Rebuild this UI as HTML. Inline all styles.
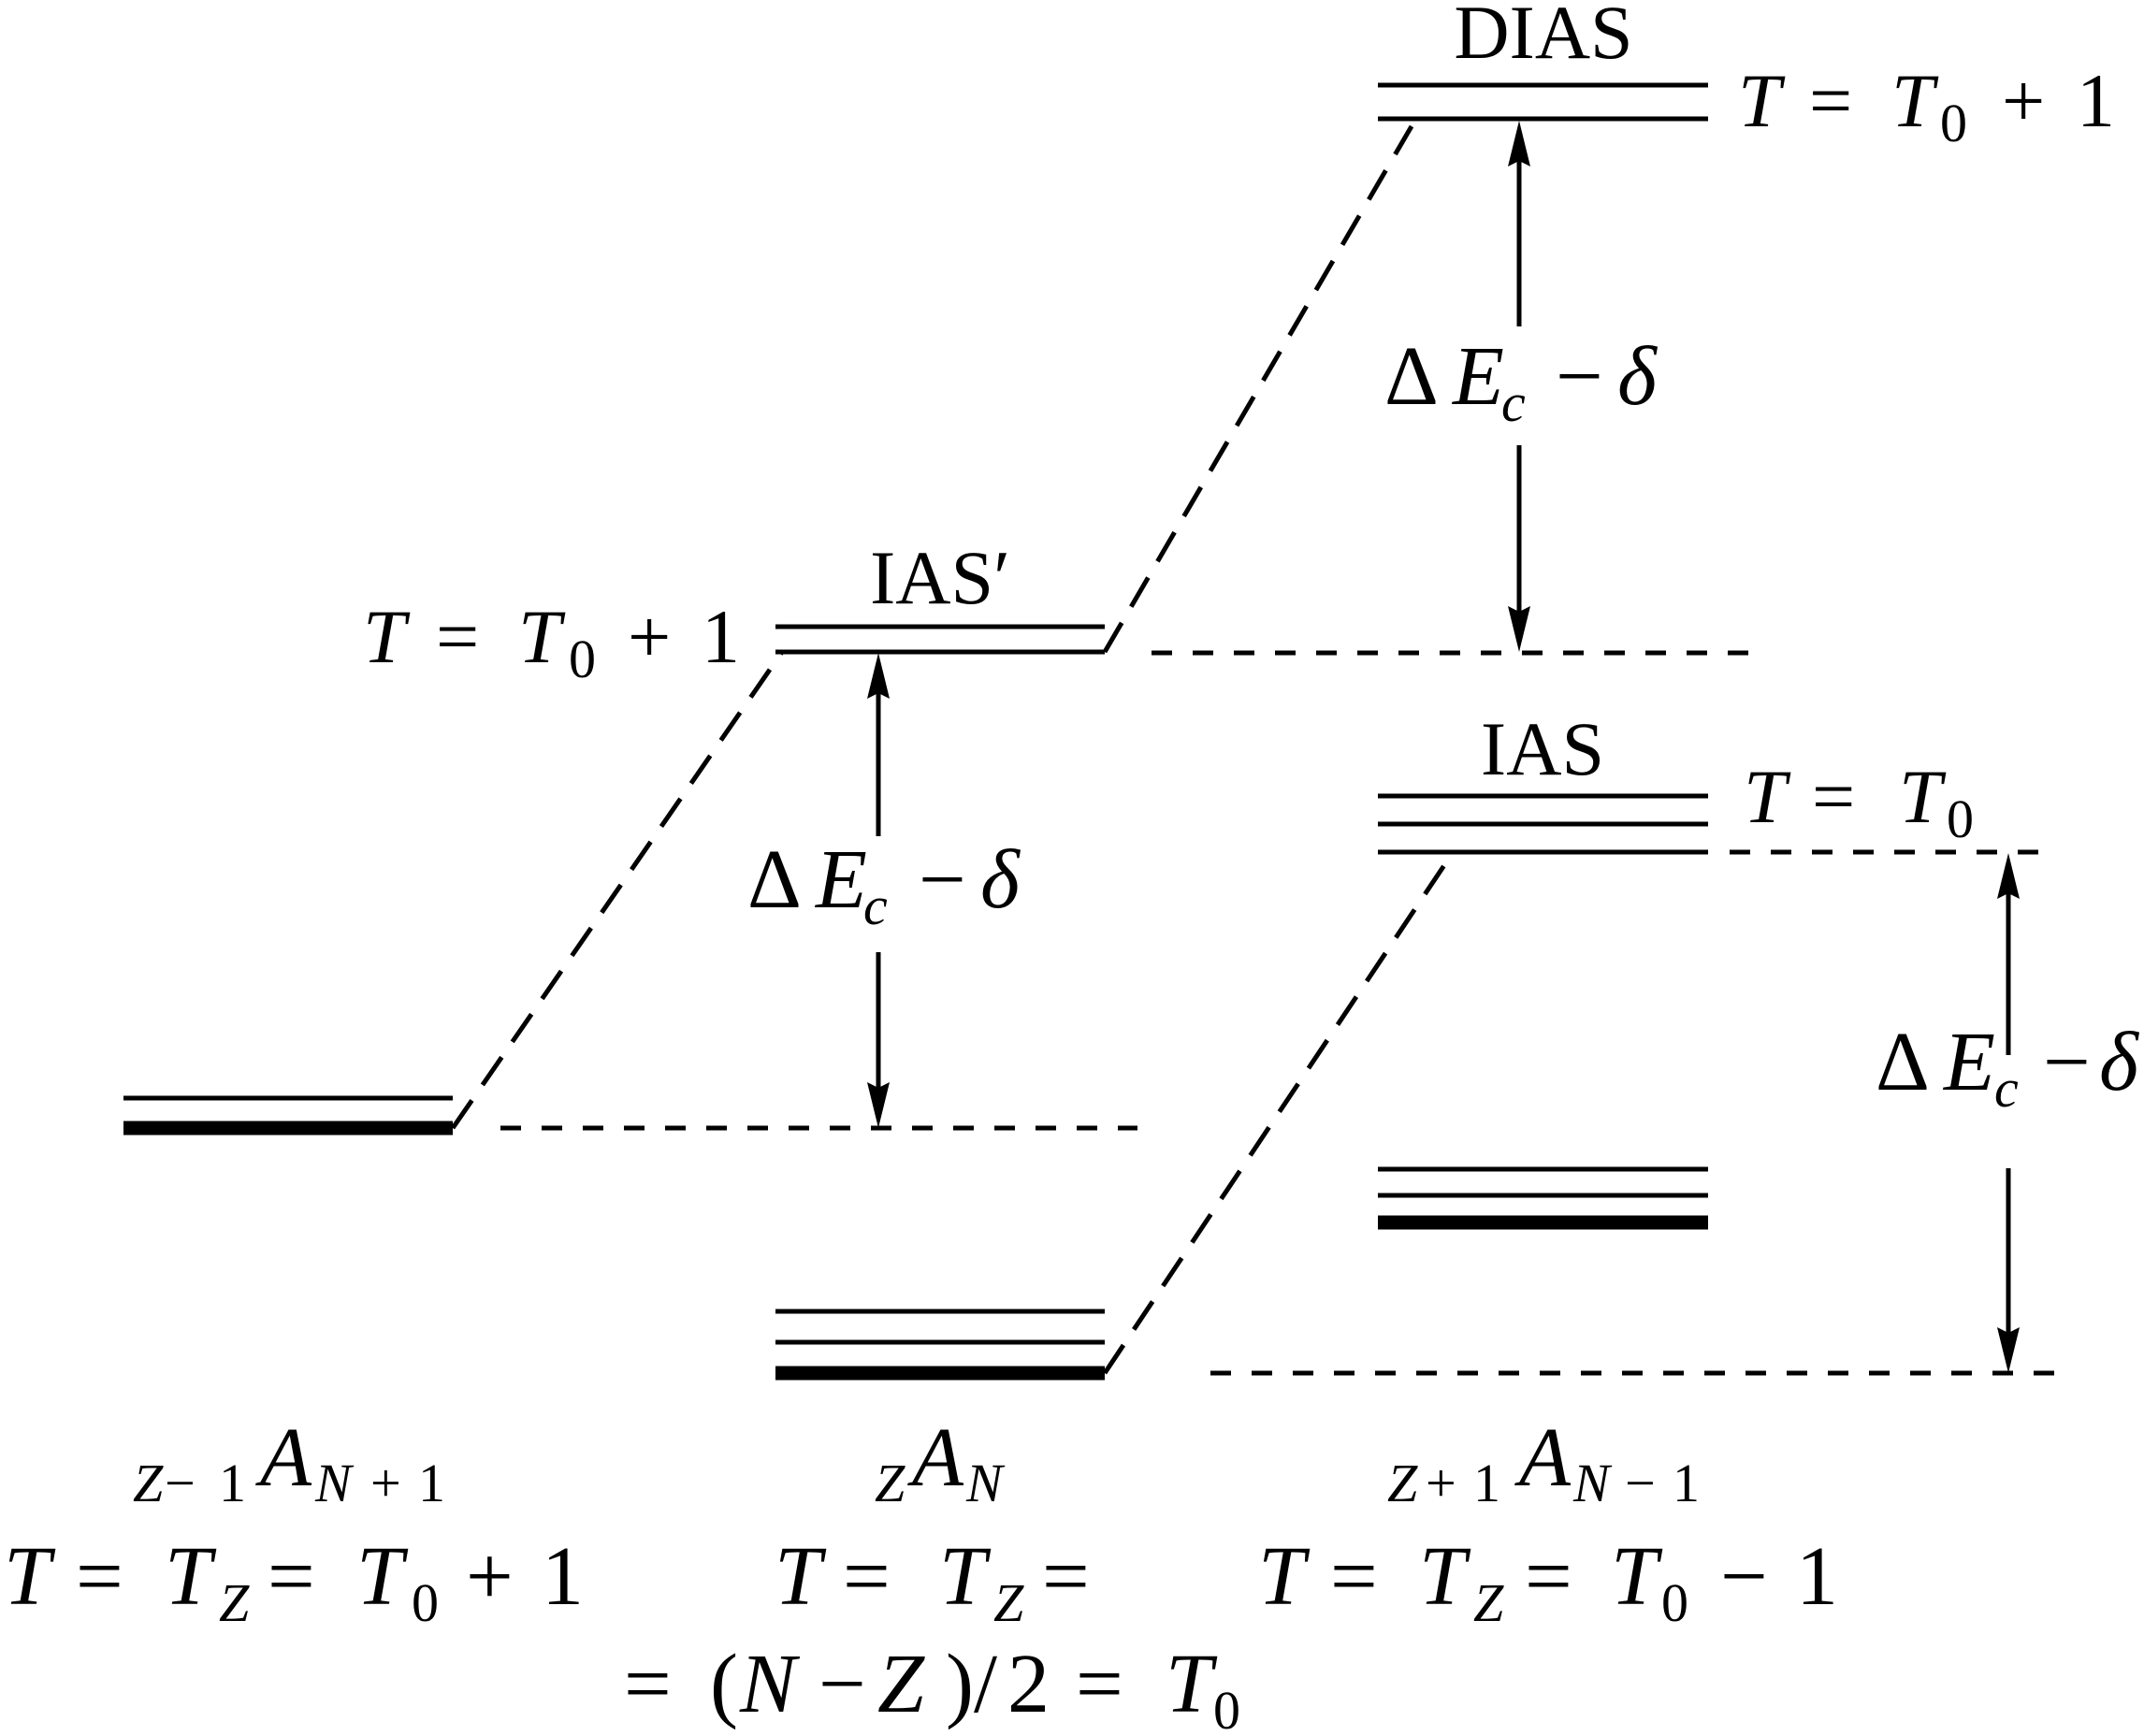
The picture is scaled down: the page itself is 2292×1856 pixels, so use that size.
<!DOCTYPE html>
<html><head><meta charset="utf-8"><style>
html,body{margin:0;padding:0;background:#fff;}
svg{display:block;}
text{font-family:"Liberation Serif","DejaVu Serif",serif;fill:#000;font-size:82px;}
.m{font-style:italic;}
.s{font-size:58px;}
.b{font-size:90px;}
</style></head><body>
<svg width="2292" height="1856" viewBox="0 0 2292 1856" xmlns="http://www.w3.org/2000/svg" font-family="Liberation Serif, DejaVu Serif, serif">
<g stroke="#000" stroke-width="5" fill="none">
<line x1="1473" y1="91" x2="1826" y2="91"/>
<line x1="1473" y1="127" x2="1826" y2="127"/>
<line x1="829" y1="670" x2="1181" y2="670"/>
<line x1="829" y1="697" x2="1181" y2="697"/>
<line x1="132" y1="1174" x2="484" y2="1174"/>
<line x1="132" y1="1206" x2="484" y2="1206" stroke-width="15"/>
<line x1="829" y1="1402" x2="1181" y2="1402"/>
<line x1="829" y1="1435" x2="1181" y2="1435"/>
<line x1="829" y1="1468" x2="1181" y2="1468" stroke-width="15"/>
<line x1="1473" y1="851" x2="1826" y2="851"/>
<line x1="1473" y1="881" x2="1826" y2="881"/>
<line x1="1473" y1="911" x2="1826" y2="911"/>
<line x1="1473" y1="1250" x2="1826" y2="1250"/>
<line x1="1473" y1="1278" x2="1826" y2="1278"/>
<line x1="1473" y1="1307" x2="1826" y2="1307" stroke-width="15"/>
<line x1="1181" y1="697" x2="1509" y2="135" stroke-dasharray="36 20"/>
<line x1="484" y1="1206" x2="836" y2="697" stroke-dasharray="36 20"/>
<line x1="1181" y1="1468" x2="1550" y2="916" stroke-dasharray="36 20"/>
<line x1="1231" y1="698" x2="1869" y2="698" stroke-dasharray="22 22"/>
<line x1="535" y1="1206" x2="1216" y2="1206" stroke-dasharray="22 22"/>
<line x1="1849" y1="911" x2="2198" y2="911" stroke-dasharray="22 22"/>
<line x1="1294" y1="1468" x2="2205" y2="1468" stroke-dasharray="22 22"/>
<line x1="1624" y1="160" x2="1624" y2="349"/>
<line x1="1624" y1="476" x2="1624" y2="665"/>
<line x1="939" y1="730" x2="939" y2="894"/>
<line x1="939" y1="1018" x2="939" y2="1173"/>
<line x1="2147" y1="944" x2="2147" y2="1128"/>
<line x1="2147" y1="1249" x2="2147" y2="1435"/>
</g>
<g fill="#000">
<polygon points="1624,129 1612,178 1624,172 1636,178"/>
<polygon points="1624,697 1612,648 1624,654 1636,648"/>
<polygon points="939,698 927,747 939,741 951,747"/>
<polygon points="939,1206 927,1157 939,1163 951,1157"/>
<polygon points="2147,912 2135,961 2147,955 2159,961"/>
<polygon points="2147,1468 2135,1419 2147,1425 2159,1419"/>
</g>
<text x="1650" y="62" text-anchor="middle">DIAS</text>
<text x="1005" y="645" text-anchor="middle">IAS′</text>
<text x="1649" y="828" text-anchor="middle">IAS</text>

<!-- T = T0 + 1 (DIAS) -->
<text x="1858" y="135" class="m">T</text><text x="1934" y="135">=</text><text x="2022" y="135" class="m">T</text><text x="2074" y="151" class="s">0</text><text x="2140" y="135">+</text><text x="2220" y="135">1</text>
<!-- left T = T0 + 1 -->
<text x="388" y="708" class="m">T</text><text x="466" y="708">=</text><text x="554" y="708" class="m">T</text><text x="608" y="724" class="s">0</text><text x="671" y="708">+</text><text x="750" y="708">1</text>
<!-- T = T0 -->
<text x="1864" y="879" class="m">T</text><text x="1937" y="879">=</text><text x="2030" y="879" class="m">T</text><text x="2081" y="895" class="s">0</text>

<!-- Delta labels -->
<text x="1480" y="432" class="b">Δ</text><text x="1553" y="432" class="b m">E</text><text x="1605" y="450" class="s m">c</text><text x="1663" y="432" class="b">−</text><text x="1729" y="432" class="b m">δ</text>
<text x="799" y="970" class="b">Δ</text><text x="872" y="970" class="b m">E</text><text x="923" y="988" class="s m">c</text><text x="982" y="970" class="b">−</text><text x="1048" y="970" class="b m">δ</text>
<text x="2005" y="1165" class="b">Δ</text><text x="2078" y="1165" class="b m">E</text><text x="2132" y="1183" class="s m">c</text><text x="2184" y="1165" class="b">−</text><text x="2244" y="1165" class="b m">δ</text>

<!-- nuclides -->
<text x="142" y="1605" class="s m">Z</text><text x="176" y="1605" class="s">−</text><text x="234" y="1605" class="s">1</text><text x="278" y="1588" class="b m">A</text><text x="337" y="1605" class="s m">N</text><text x="396" y="1605" class="s">+</text><text x="447" y="1605" class="s">1</text>
<text x="935" y="1605" class="s m">Z</text><text x="975" y="1588" class="b m">A</text><text x="1033" y="1605" class="s m">N</text>
<text x="1483" y="1605" class="s m">Z</text><text x="1524" y="1605" class="s">+</text><text x="1575" y="1605" class="s">1</text><text x="1624" y="1588" class="b m">A</text><text x="1682" y="1605" class="s m">N</text><text x="1737" y="1605" class="s">−</text><text x="1788" y="1605" class="s">1</text>

<!-- bottom row 1 -->
<text x="4" y="1715" class="b m">T</text><text x="81" y="1715" class="b">=</text><text x="176" y="1715" class="b m">T</text><text x="234" y="1733" class="s m">Z</text><text x="286" y="1715" class="b">=</text><text x="381" y="1715" class="b m">T</text><text x="440" y="1733" class="s">0</text><text x="498" y="1715" class="b">+</text><text x="579" y="1715" class="b">1</text>
<text x="828" y="1715" class="b m">T</text><text x="901" y="1715" class="b">=</text><text x="1004" y="1715" class="b m">T</text><text x="1062" y="1733" class="s m">Z</text><text x="1114" y="1715" class="b">=</text>
<text x="1345" y="1715" class="b m">T</text><text x="1422" y="1715" class="b">=</text><text x="1517" y="1715" class="b m">T</text><text x="1575" y="1733" class="s m">Z</text><text x="1630" y="1715" class="b">=</text><text x="1722" y="1715" class="b m">T</text><text x="1776" y="1733" class="s">0</text><text x="1839" y="1715" class="b">−</text><text x="1920" y="1715" class="b">1</text>
<!-- row 3 -->
<text x="667" y="1830" class="b">=</text><text x="759" y="1830" class="b">(</text><text x="791" y="1830" class="b m">N</text><text x="875" y="1830" class="b">−</text><text x="938" y="1830" class="b m">Z</text><text x="1011" y="1830" class="b">)</text><text x="1041" y="1830" class="b">/</text><text x="1077" y="1830" class="b">2</text><text x="1150" y="1830" class="b">=</text><text x="1246" y="1830" class="b m">T</text><text x="1297" y="1848" class="s">0</text>
</svg>
</body></html>
